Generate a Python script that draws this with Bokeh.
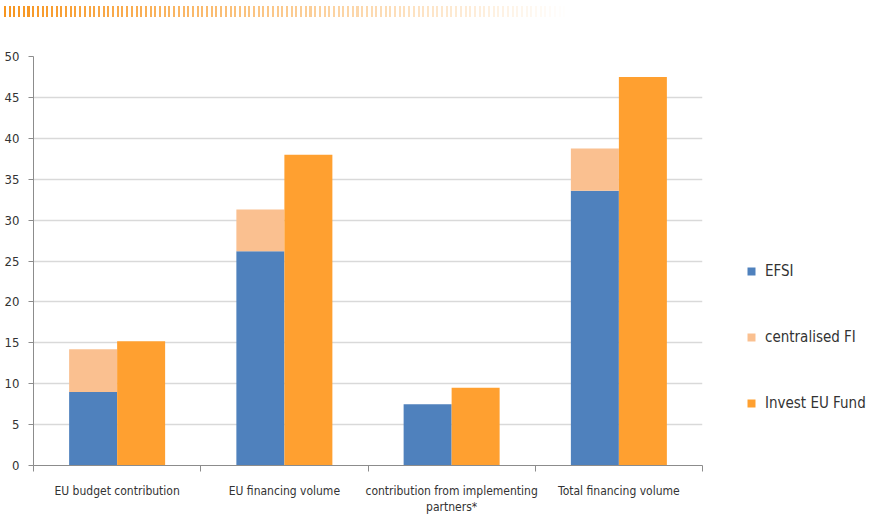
from bokeh.plotting import figure
from bokeh.models import Range1d, LinearAxis, FixedTicker, Legend, LegendItem, ColumnDataSource, Div
from bokeh.transform import dodge
from bokeh.layouts import column
from bokeh.embed import file_html
from bokeh.resources import INLINE

categories = ["EU budget contribution", "EU financing volume",
              "contribution from implementing\npartners*", "Total financing volume"]
efsi = [9.0, 26.2, 7.5, 33.6]
centralised_fi = [5.2, 5.1, 0.0, 5.15]
invest_eu = [15.2, 38.0, 9.5, 47.5]
series_names = ["EFSI", "centralised FI", "Invest EU Fund"]
y_ticks = [0, 5, 10, 15, 20, 25, 30, 35, 40, 45, 50]

FONT = "DejaVu Sans Condensed"
C_EFSI = "#4F81BD"
C_CFI = "#FAC090"
C_INV = "#FFA030"

# decorative stripe header
deco = Div(text="", width=870, height=30, styles={
    "margin": "0", "padding": "0",
    "background-image": "repeating-linear-gradient(90deg, #F7941D 0px, #F7941D 2px, transparent 2px, transparent 4.7px)",
    "background-size": "562px 11px",
    "background-position": "4px 6px",
    "background-repeat": "no-repeat",
    "-webkit-mask-image": "linear-gradient(90deg, rgba(0,0,0,1) 0px, rgba(0,0,0,0) 570px)",
    "mask-image": "linear-gradient(90deg, rgba(0,0,0,1) 0px, rgba(0,0,0,0) 570px)",
})

xs_c = [i + 0.5 for i in range(len(categories))]
src = ColumnDataSource(dict(x=xs_c, efsi=efsi, cfi=centralised_fi, inv=invest_eu))

p = figure(frame_width=669, frame_height=409, x_range=Range1d(0, len(categories)), y_range=Range1d(0, 50),
           output_backend="svg", toolbar_location=None, x_axis_location=None, y_axis_location=None,
           min_border_left=33, min_border_right=0, min_border_top=26, min_border_bottom=51)
p.outline_line_color = None
p.background_fill_color = "white"

bw = 0.287
r_stack = p.vbar_stack(["efsi", "cfi"], x=dodge("x", -bw / 2), width=bw, source=src,
                       color=[C_EFSI, C_CFI], line_color=None)
r_inv = p.vbar(x=dodge("x", bw / 2), top="inv", width=bw, source=src,
               fill_color=C_INV, line_color=None)

yax = LinearAxis(ticker=FixedTicker(ticks=y_ticks))
yax.axis_line_color = "#8C8C8C"
yax.major_tick_line_color = "#8C8C8C"
yax.major_tick_out = 5
yax.major_tick_in = 0
yax.minor_tick_line_color = None
yax.major_label_text_font = FONT
yax.major_label_text_font_size = "13px"
yax.major_label_text_color = "#333333"
yax.major_label_standoff = 9
p.add_layout(yax, "left")

xax = LinearAxis(ticker=FixedTicker(ticks=xs_c, minor_ticks=list(range(len(categories) + 1))))
xax.major_label_overrides = {x: c for x, c in zip(xs_c, categories)}
xax.axis_line_color = "#8C8C8C"
xax.major_tick_line_color = None
xax.minor_tick_line_color = "#8C8C8C"
xax.minor_tick_out = 6
xax.minor_tick_in = 0
xax.major_label_text_font = FONT
xax.major_label_text_font_size = "12px"
xax.major_label_text_color = "#333333"
xax.major_label_standoff = 12
p.add_layout(xax, "below")

p.xgrid.visible = False
p.ygrid.ticker = FixedTicker(ticks=y_ticks)
p.ygrid.grid_line_color = "#D9D9D9"
p.ygrid.grid_line_width = 1.5

legend = Legend(items=[LegendItem(label=series_names[0], renderers=[r_stack[0]]),
                       LegendItem(label=series_names[1], renderers=[r_stack[1]]),
                       LegendItem(label=series_names[2], renderers=[r_inv])],
                location=(44, 53))
legend.border_line_color = None
legend.background_fill_alpha = 0
legend.glyph_width = 10
legend.glyph_height = 10
legend.spacing = 48
legend.margin = 0
legend.label_text_font = FONT
legend.label_text_font_size = "15px"
legend.label_text_color = "#333333"
legend.label_standoff = 9
p.add_layout(legend, "right")

layout = column(deco, p, spacing=0)
open("out.html", "w").write(file_html(layout, INLINE))
